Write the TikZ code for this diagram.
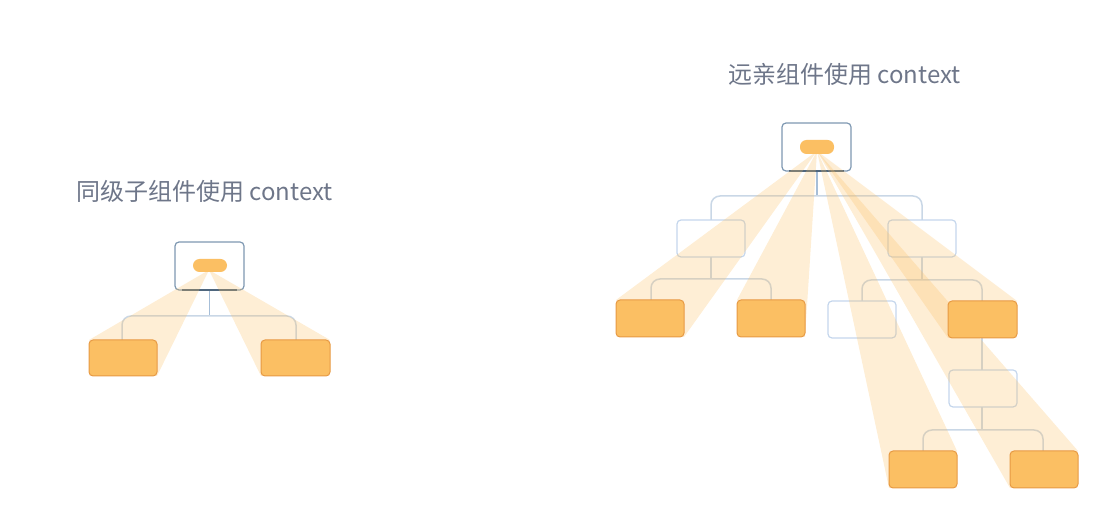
\documentclass[tikz,border=0pt]{standalone}
\usepackage{fontspec}
\newfontfamily\cjk{Noto Sans CJK SC}
\definecolor{titlec}{HTML}{6E7689}
\definecolor{wirec}{HTML}{C9D7E6}
\definecolor{wiredark}{HTML}{A6BED8}
\definecolor{emptyc}{HTML}{C4D6EC}
\definecolor{orangef}{HTML}{FBBF63}
\definecolor{oranged}{HTML}{E79A44}
\definecolor{topc}{HTML}{7E98B2}
\definecolor{topd}{HTML}{4F667D}
\definecolor{beamc}{HTML}{FBBF63}
\tikzset{
  titletext/.style={font=\cjk\fontsize{24}{28}\selectfont, text=titlec, inner sep=0pt},
  wire/.style={draw=wirec, line width=1.5pt, rounded corners=9pt},
  wirev/.style={draw=wiredark, line width=1.5pt},
  emptybox/.style={draw=emptyc, line width=1.2pt, rounded corners=4pt},
  orangebox/.style={fill=orangef, draw=oranged, line width=1pt, rounded corners=4pt},
  topbox/.style={fill=white, draw=topc, line width=1.2pt, rounded corners=4pt},
  pill/.style={fill=orangef, rounded corners=6.5pt},
  beam/.style={fill=beamc, fill opacity=0.27, draw=none}
}
\begin{document}
\begin{tikzpicture}[x=1pt,y=-1pt]
\useasboundingbox (0,0) rectangle (1120,526);
% ---------- titles
\node[titletext, anchor=west] (t1) at (76,191) {同级子组件使用 context};
\node[titletext, anchor=west] (t2) at (728,74) {远亲组件使用 context};

% ---------- left diagram
\coordinate (ltb) at (209.5,290);
\coordinate (lbusL) at (122,316);
\coordinate (lbusR) at (296,316);
\coordinate (lc1t) at (122,340);
\coordinate (lc2t) at (296,340);
\coordinate (lapex) at (209,270);
\draw[wirev] (ltb) -- (209.5,316);
\draw[wire] (lc1t) -- (lbusL) -- (lbusR) -- (lc2t);
\draw[topbox] (175,242) rectangle (244,290);
\draw[topd, line width=1.3pt] (182,290) -- (237,290);
\fill[beam] (lapex) -- (89,340) -- (157,376) -- cycle;
\fill[beam] (lapex) -- (330,340) -- (261,376) -- cycle;
\node[pill, minimum width=34pt, minimum height=13pt, inner sep=0pt] (lpill) at (210,265.5) {};
\draw[orangebox] (89,340) rectangle (157,376);
\draw[orangebox] (261,340) rectangle (330,376);

% ---------- right diagram wires
\coordinate (rtb) at (817,171);
\draw[wirev] (rtb) -- (817,196);
\draw[wire] (711,220) -- (711,196) -- (922,196) -- (922,220);
\draw[wire] (711,257) -- (711,279);
\draw[wire] (651,300) -- (651,279) -- (771,279) -- (771,300);
\draw[wire] (922,257) -- (922,280);
\draw[wire] (862,301) -- (862,280) -- (982,280) -- (982,301);
\draw[wire] (982,338) -- (982,370);
\draw[wire] (982,407) -- (982,430);
\draw[wire] (923,451) -- (923,430) -- (1043,430) -- (1043,451);
% empty boxes
\draw[emptybox] (677,220) rectangle (745,257);
\draw[emptybox] (888,220) rectangle (956,257);
\draw[emptybox] (828,301) rectangle (896,338);
\draw[emptybox] (949,370) rectangle (1017,407);
% top box
\draw[topbox] (782,123) rectangle (851,171);
\draw[topd, line width=1.3pt] (789,171) -- (844,171);
% beams
\coordinate (rapex) at (817,151);
\fill[beam] (rapex) -- (616,300) -- (684,337) -- cycle;
\fill[beam] (rapex) -- (737,300) -- (805,337) -- cycle;
\fill[beam] (rapex) -- (948,338) -- (1017,301) -- cycle;
\fill[beam] (rapex) -- (889,488) -- (957,451) -- cycle;
\fill[beam] (rapex) -- (1010,488) -- (1078,451) -- cycle;
\node[pill, minimum width=34pt, minimum height=14pt, inner sep=0pt] (rpill) at (817,147) {};
% orange boxes
\draw[orangebox] (616,300) rectangle (684,337);
\draw[orangebox] (737,300) rectangle (805,337);
\draw[orangebox] (948,301) rectangle (1017,338);
\draw[orangebox] (889,451) rectangle (957,488);
\draw[orangebox] (1010,451) rectangle (1078,488);
\end{tikzpicture}
\end{document}
